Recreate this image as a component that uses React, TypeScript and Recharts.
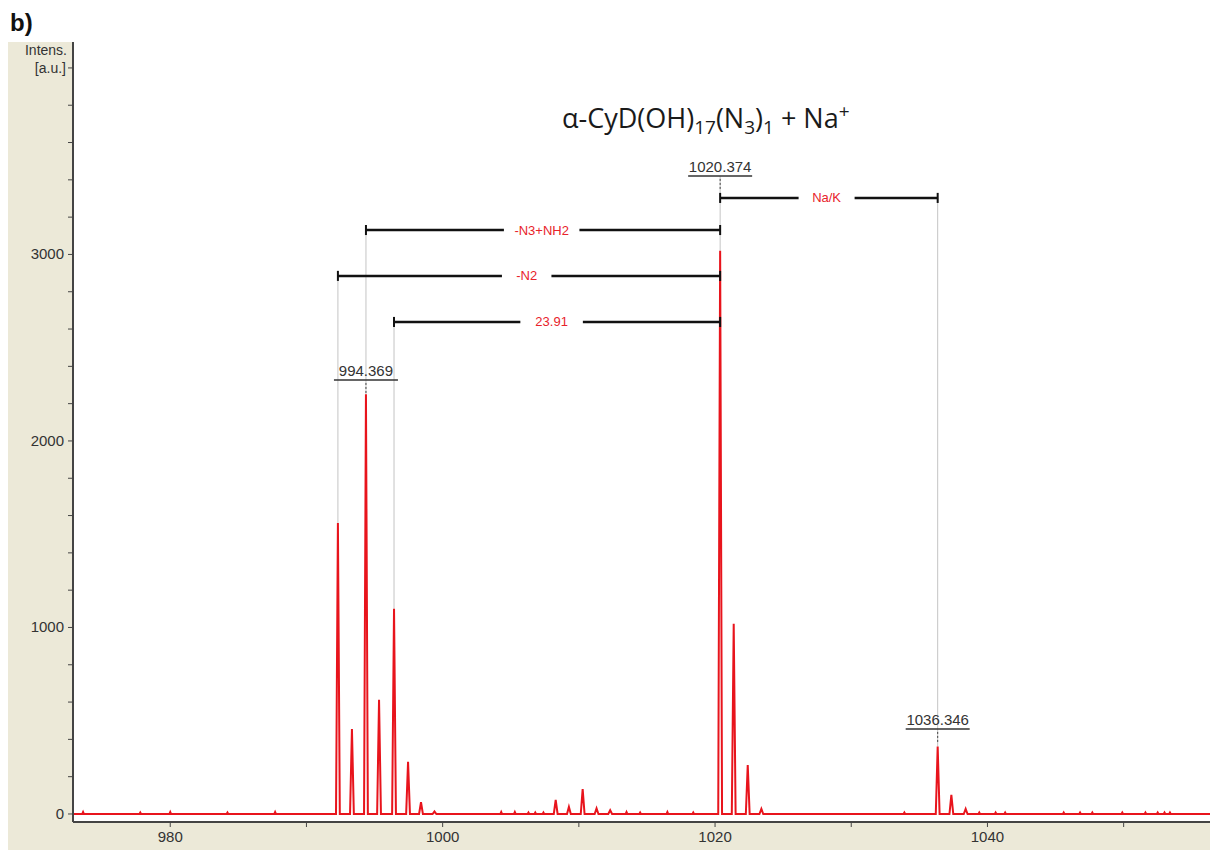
import React from "react";
import { LineChart, Line, XAxis, YAxis, CartesianGrid, ReferenceLine, ReferenceDot } from "recharts";

const mzDomain = [972.86, 1056.34];
const intensDomain = [-43, 4139];
const mzTicks = [980, 990, 1000, 1010, 1020, 1030, 1040, 1050];
const mzLabelTicks = [980, 1000, 1020, 1040];
const intensTicks = [0, 200, 400, 600, 800, 1000, 1200, 1400, 1600, 1800, 2000, 2200, 2400, 2600, 2800, 3000, 3200, 3400, 3600, 3800, 4000];
const intensLabelTicks = [0, 1000, 2000, 3000];

// isotope peaks
const peakMz = [992.31, 993.34, 994.369, 995.33, 996.43, 997.46, 998.41, 999.4, 1008.3, 1009.27, 1010.28, 1011.3, 1012.3, 1020.374, 1021.37, 1022.4, 1023.4, 1036.346, 1037.35, 1038.4];
const peakIntens = [1560, 456, 2250, 612, 1100, 280, 64, 14, 75, 38, 134, 30, 20, 3020, 1020, 263, 27, 361, 102, 27];

// tiny baseline spikes
const noiseMz = [973.6, 977.8, 980.0, 984.2, 987.7, 1004.3, 1005.3, 1006.3, 1006.8, 1007.4, 1013.5, 1014.5, 1016.5, 1018.4, 1033.9, 1039.4, 1040.6, 1041.3, 1045.6, 1046.8, 1047.7, 1049.9, 1051.6, 1052.5, 1053.0, 1053.4];
const noiseIntens = [10, 8, 10, 8, 10, 10, 10, 8, 8, 8, 10, 8, 10, 8, 8, 8, 8, 8, 8, 8, 8, 8, 8, 8, 8, 8];

const bracketLabels = ["Na/K", "-N3+NH2", "-N2", "23.91"];
const bracketFrom = [1020.374, 994.369, 992.31, 996.43];
const bracketTo = [1036.346, 1020.374, 1020.374, 1020.374];
const bracketLevel = [3303, 3131, 2885, 2638];
const bracketLabelAt = [1028.19, 1007.27, 1006.17, 1008.0];

const guideMz = [992.31, 994.369, 996.43, 1020.374, 1036.346];
const guideTop = [2885, 3131, 2638, 3421, 3303];
const guideBottom = [1560, 2250, 1100, 3020, 361];

const peakLabels = ["994.369", "1020.374", "1036.346"];
const peakLabelMz = [994.369, 1020.374, 1036.346];
const peakLabelLevel = [2327, 3421, 456];

const HALF = 0.14;
const NOISE_HALF = 0.06;

const spectrum = (() => {
  const pts: { mz: number; i: number }[] = [
    { mz: mzDomain[0], i: 0 },
    { mz: mzDomain[1], i: 0 },
  ];
  peakMz.forEach((m, k) => {
    pts.push({ mz: m - HALF, i: 0 }, { mz: m, i: peakIntens[k] }, { mz: m + HALF, i: 0 });
  });
  noiseMz.forEach((m, k) => {
    pts.push({ mz: m - NOISE_HALF, i: 0 }, { mz: m, i: noiseIntens[k] }, { mz: m + NOISE_HALF, i: 0 });
  });
  return pts.sort((a, b) => a.mz - b.mz);
})();

const FONT = "'Liberation Sans', Arial, sans-serif";
const RED = "#e8141c";

const XTick = (props: any) => {
  const { x, y, payload } = props;
  if (!mzLabelTicks.includes(payload.value)) return <g />;
  return (
    <text x={x} y={y + 13} textAnchor="middle" fontSize={15} fill="#333" fontFamily={FONT}>
      {payload.value}
    </text>
  );
};

const YTick = (props: any) => {
  const { x, y, payload } = props;
  if (payload.value === 4000) {
    return (
      <g>
        <text x={x + 1} y={y - 13} textAnchor="end" fontSize={14} fill="#333" fontFamily={FONT}>Intens.</text>
        <text x={x} y={y + 5} textAnchor="end" fontSize={14} fill="#333" fontFamily={FONT}>[a.u.]</text>
      </g>
    );
  }
  if (!intensLabelTicks.includes(payload.value)) return <g />;
  return (
    <text x={x - 2} y={y + 5} textAnchor="end" fontSize={15} fill="#333" fontFamily={FONT}>
      {payload.value}
    </text>
  );
};

const CAP = 27;

export default function App() {
  return (
    <div style={{ position: "absolute", left: 0, top: 0, width: 1210, height: 850, background: "#fff", overflow: "hidden" }}>
      <div style={{ position: "absolute", left: 8, top: 42, width: 1202, height: 808, background: "#ECE9D8" }} />
      <div style={{ position: "absolute", left: 10, top: 9, fontFamily: FONT, fontWeight: 700, fontSize: 24, color: "#111" }}>b)</div>
      <div style={{ position: "absolute", left: 0, top: 0 }}>
        <LineChart width={1210} height={850} data={spectrum} margin={{ top: 42, right: 0, left: 8, bottom: 0 }}>
          <CartesianGrid horizontal={false} vertical={false} fill="#fff" />
          <XAxis
            type="number"
            dataKey="mz"
            domain={mzDomain}
            allowDataOverflow
            ticks={mzTicks}
            interval={0}
            height={28}
            tickSize={5}
            tick={<XTick />}
            axisLine={{ stroke: "#444", strokeWidth: 2 }}
            tickLine={{ stroke: "#444" }}
          />
          <YAxis
            type="number"
            domain={intensDomain}
            allowDataOverflow
            ticks={intensTicks}
            interval={0}
            width={65}
            tickSize={5}
            tick={<YTick />}
            axisLine={{ stroke: "#444", strokeWidth: 2 }}
            tickLine={{ stroke: "#444" }}
          />
          {guideMz.map((m, k) => (
            <ReferenceLine
              key={`g${k}`}
              segment={[{ x: m, y: guideTop[k] }, { x: m, y: guideBottom[k] }]}
              stroke="#c4c4c4"
              strokeWidth={1}
            />
          ))}
          <Line
            type="linear"
            dataKey="i"
            stroke={RED}
            strokeWidth={2}
            dot={false}
            activeDot={false}
            isAnimationActive={false}
          />
          {bracketLabels.map((_, k) => (
            <ReferenceLine
              key={`b${k}`}
              segment={[{ x: bracketFrom[k], y: bracketLevel[k] }, { x: bracketTo[k], y: bracketLevel[k] }]}
              stroke="#111"
              strokeWidth={2.5}
            />
          ))}
          {bracketLabels.map((_, k) => (
            <ReferenceLine
              key={`cl${k}`}
              segment={[{ x: bracketFrom[k], y: bracketLevel[k] - CAP }, { x: bracketFrom[k], y: bracketLevel[k] + CAP }]}
              stroke="#111"
              strokeWidth={2}
            />
          ))}
          {bracketLabels.map((_, k) => (
            <ReferenceLine
              key={`cr${k}`}
              segment={[{ x: bracketTo[k], y: bracketLevel[k] - CAP }, { x: bracketTo[k], y: bracketLevel[k] + CAP }]}
              stroke="#111"
              strokeWidth={2}
            />
          ))}
          {bracketLabels.map((label, k) => (
            <ReferenceDot
              key={`bl${k}`}
              x={bracketLabelAt[k]}
              y={bracketLevel[k]}
              r={1}
              shape={(p: any) => {
                const w = label.length * 6.5 + 30;
                return (
                  <g>
                    <rect x={p.cx - w / 2} y={p.cy - 9} width={w} height={18} fill="#fff" />
                    <text x={p.cx} y={p.cy + 4.5} textAnchor="middle" fontSize={13} fill="#e8232b" fontFamily={FONT}>
                      {label}
                    </text>
                  </g>
                );
              }}
            />
          ))}
          {peakLabels.map((label, k) => (
            <ReferenceDot
              key={`pl${k}`}
              x={peakLabelMz[k]}
              y={peakLabelLevel[k]}
              r={1}
              shape={(p: any) => (
                <g>
                  <text x={p.cx} y={p.cy - 4} textAnchor="middle" fontSize={15} fill="#333" fontFamily={FONT}>
                    {label}
                  </text>
                  <line x1={p.cx - 32} x2={p.cx + 32} y1={p.cy} y2={p.cy} stroke="#333" strokeWidth={1.5} />
                  <line x1={p.cx} x2={p.cx} y1={p.cy + 3} y2={p.cy + 14} stroke="#444" strokeWidth={1} strokeDasharray="2 2" />
                </g>
              )}
            />
          ))}
        </LineChart>
      </div>
      <div style={{ position: "absolute", left: 562, top: 98, fontFamily: "'Open Sans', sans-serif", fontSize: 27, color: "#1a1a1a", whiteSpace: "nowrap" }}>
        α-CyD(OH)<sub style={{ fontSize: 19 }}>17</sub>(N<sub style={{ fontSize: 19 }}>3</sub>)<sub style={{ fontSize: 19 }}>1</sub> + Na<sup style={{ fontSize: 19 }}>+</sup>
      </div>
    </div>
  );
}
